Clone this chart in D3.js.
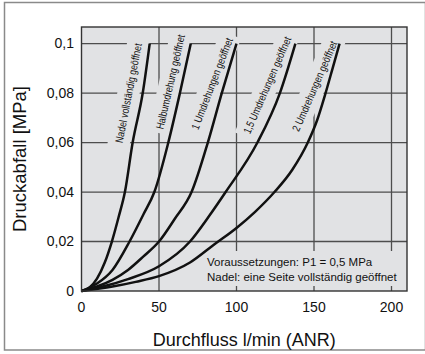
<!DOCTYPE html>
<html><head><meta charset="utf-8">
<script src="https://cdn.jsdelivr.net/npm/d3@7"></script>
<style>body{margin:0;background:#fff}svg{display:block}</style>
</head><body>
<svg id="c" width="425" height="354"></svg>
<script>
// ---- data ----
const xTicks = [0, 50, 100, 150, 200];
const xTickLabels = ["0", "50", "100", "150", "200"];
const yTicks = [0, 0.02, 0.04, 0.06, 0.08, 0.1];
const yTickLabels = ["0", "0,02", "0,04", "0,06", "0,08", "0,1"];
const curveNames = ["Nadel vollständig geöffnet", "Halbumdrehung geöffnet", "1 Umdrehungen geöffnet", "1,5 Umdrehungen geöffnet", "2 Umdrehungen geöffnet"];
const nadel = [[0,0],[5,0.0013],[10,0.005],[15,0.0115],[19.6,0.02],[24,0.03],[28,0.04],[33,0.06],[39.5,0.08],[44,0.1]];
const halb = [[0,0],[10,0.003],[20,0.0085],[31,0.02],[40,0.031],[47,0.04],[56,0.06],[63.5,0.08],[70.5,0.1]];
const umdr1 = [[0,0],[10,0.0018],[20,0.0045],[30,0.0085],[40,0.014],[50,0.02],[60,0.029],[71,0.04],[81.5,0.06],[90.5,0.08],[100,0.1]];
const umdr15 = [[0,0],[15,0.002],[30,0.0048],[50,0.01],[70,0.02],[82,0.03],[93,0.04],[113.5,0.06],[128,0.08],[138,0.1]];
const umdr2 = [[0,0],[20,0.0018],[35,0.0037],[50,0.006],[70,0.0115],[86,0.019],[100,0.0255],[112,0.032],[124.5,0.04],[136,0.049],[146,0.06],[152,0.069],[157,0.079],[162,0.09],[166.5,0.1]];
const series = [nadel, halb, umdr1, umdr15, umdr2];
const noteLines = ["Voraussetzungen: P1 = 0,5 MPa", "Nadel: eine Seite vollständig geöffnet"];
const xTitle = "Durchfluss l/min (ANR)";
const yTitle = "Druckabfall [MPa]";

// ---- layout ----
const plot = {l: 81.5, r: 407, t: 27, b: 291};
const labelLayout = [
  {cx: 30.3, cy: 0.0800, angle: 79},
  {cx: 57.3, cy: 0.0845, angle: 77},
  {cx: 84.2, cy: 0.0838, angle: 69},
  {cx: 119.8, cy: 0.0832, angle: 66.5},
  {cx: 150.4, cy: 0.0828, angle: 66.5}
];
const bg = "#e1e2e4", gridC = "#4d4d4d";
const font = "'Liberation Sans', Arial, Helvetica, sans-serif";

const svg = d3.select("#c");
const x = d3.scaleLinear([0, 210], [plot.l, plot.r]);
const y = d3.scaleLinear([0, 0.1067], [plot.b, plot.t]);

// outer frame
svg.append("rect").attr("x", 4.5).attr("y", 2.5).attr("width", 421).attr("height", 347.5)
  .attr("fill", "#fff").attr("stroke", "#8a8a8a").attr("stroke-width", 1.5);

// plot background
svg.append("rect").attr("x", plot.l).attr("y", plot.t).attr("width", plot.r - plot.l).attr("height", plot.b - plot.t)
  .attr("fill", bg);

// grid
const g = svg.append("g");
g.selectAll(".vg").data(xTicks.filter(d => d > 0)).join("line")
  .attr("x1", d => x(d)).attr("x2", d => x(d)).attr("y1", plot.t).attr("y2", plot.b)
  .attr("stroke", gridC).attr("stroke-width", 1.3);
g.selectAll(".hg").data(yTicks.filter(d => d > 0)).join("line")
  .attr("y1", d => y(d)).attr("y2", d => y(d)).attr("x1", plot.l).attr("x2", plot.r)
  .attr("stroke", gridC).attr("stroke-width", 1.3);

// label backgrounds (under curves) and label texts (over curves)
const labBg = svg.append("g");
const curveG = svg.append("g");
const labTx = svg.append("g");
curveNames.forEach((name, i) => {
  const L = labelLayout[i];
  const tr = `translate(${x(L.cx)},${y(L.cy)}) rotate(${-L.angle})`;
  const rect = labBg.append("g").attr("transform", tr).append("rect").attr("fill", bg);
  const t = labTx.append("g").attr("transform", tr).append("text").text(name)
    .attr("text-anchor", "middle").attr("dy", "0.35em")
    .attr("transform", "scale(0.8,1)")
    .attr("font-family", font).attr("font-size", 11).attr("fill", "#111");
  const len = t.node().getComputedTextLength() * 0.8;
  rect.attr("x", -len / 2 - 4).attr("y", -11).attr("width", len + 8).attr("height", 22);
});

// note box
const noteBox = svg.append("g");
noteBox.append("rect").attr("x", 200).attr("y", 251).attr("width", plot.r - 200).attr("height", plot.b - 251).attr("fill", bg);
noteBox.selectAll("line").data(xTicks.filter(d => x(d) > 200)).join("line")
  .attr("x1", d => x(d)).attr("x2", d => x(d)).attr("y1", plot.b - 5).attr("y2", plot.b)
  .attr("stroke", gridC).attr("stroke-width", 1.3);
noteBox.selectAll("text").data(noteLines).join("text")
  .attr("x", 207).attr("y", (d, i) => 266 + i * 15).text(d => d)
  .attr("font-family", font).attr("font-size", 11.5).attr("fill", "#111");

// curves
curveG.raise();
labTx.raise();
const line = d3.line().x(d => x(d[0])).y(d => y(d[1])).curve(d3.curveMonotoneX);
curveG.selectAll("path").data(series).join("path")
  .attr("d", line).attr("fill", "none").attr("stroke", "#111").attr("stroke-width", 2.5)
  .attr("stroke-linecap", "butt");

// plot border
svg.append("rect").attr("x", plot.l).attr("y", plot.t).attr("width", plot.r - plot.l).attr("height", plot.b - plot.t)
  .attr("fill", "none").attr("stroke", "#333").attr("stroke-width", 1.4);

// tick labels
svg.append("g").selectAll("text").data(yTicks).join("text")
  .attr("x", 74).attr("y", d => y(d)).attr("dy", "0.35em").attr("text-anchor", "end")
  .text((d, i) => yTickLabels[i]).attr("font-family", font).attr("font-size", 14).attr("fill", "#111");
svg.append("g").selectAll("text").data(xTicks).join("text")
  .attr("x", d => x(d)).attr("y", 312).attr("text-anchor", "middle")
  .text((d, i) => xTickLabels[i]).attr("font-family", font).attr("font-size", 14).attr("fill", "#111");

// titles
svg.append("text").attr("x", (plot.l + plot.r) / 2).attr("y", 346).attr("text-anchor", "middle")
  .text(xTitle).attr("font-family", font).attr("font-size", 18).attr("fill", "#111");
svg.append("text").attr("transform", `translate(26,${(plot.t + plot.b) / 2}) rotate(-90)`).attr("text-anchor", "middle")
  .text(yTitle).attr("font-family", font).attr("font-size", 18.5).attr("fill", "#111");
</script>
</body></html>
